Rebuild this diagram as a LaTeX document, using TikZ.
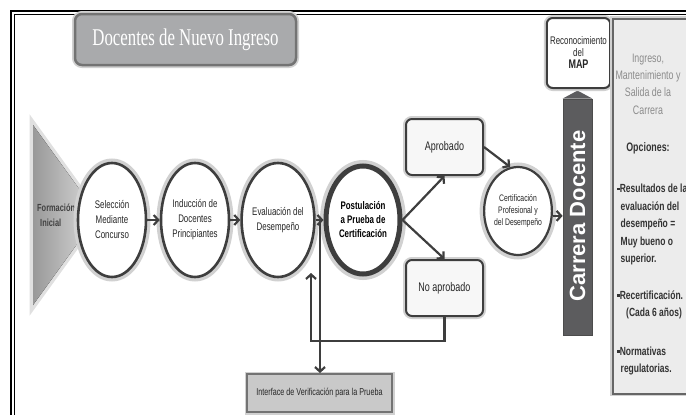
\documentclass[tikz,border=0pt]{standalone}
\usepackage{fontspec}
\setmainfont{Liberation Sans}
\newfontfamily\condfont[FakeStretch=0.72]{Liberation Sans}
\newfontfamily\titlefont[FakeStretch=0.7]{Liberation Serif}
\usepackage{xcolor}
\usetikzlibrary{arrows.meta,positioning,calc,shapes.geometric}
\definecolor{linegray}{HTML}{3E3E3E}
\definecolor{titlegray}{HTML}{A9AAAC}
\definecolor{bargray}{HTML}{5C5C5E}
\definecolor{panelgray}{HTML}{ECECEC}
\definecolor{ifacegray}{HTML}{C9C9C9}
\newcommand{\sqbul}{\raisebox{2.6pt}{\rule{2.6pt}{2.6pt}}}

\begin{document}
\begin{tikzpicture}[x=1pt, y=-1pt,
    arr/.style={draw=linegray, line width=2.2pt, -{Straight Barb[length=4.5pt,width=10pt]}},
    glow/.style={preaction={draw=black!18, line width=#1}},
    stage/.style={ellipse, draw=linegray, line width=2.6pt, fill=white, inner sep=0pt, glow=9pt,
        align=center, text=black!85, font=\condfont\fontsize{11}{15}\selectfont,
        minimum width=68pt, minimum height=114pt},
    box/.style={draw=linegray, line width=2pt, rounded corners=6pt, fill=black!3, glow=6pt,
        align=center, text=black!85, minimum width=77pt, minimum height=56pt,
        font=\condfont\fontsize{12.5}{15}\selectfont}]

\useasboundingbox (0,0) rectangle (686,415);
\clip (0,0) rectangle (686,415);

% Frame
\draw[line width=2.5pt] (11,420) -- (11,11) -- (690,11);
\draw[line width=1pt] (14.5,420) -- (14.5,14.5) -- (690,14.5);

% Title
\node[draw=black!55, line width=2.5pt, rounded corners=7pt, fill=titlegray, glow=6pt,
    minimum width=221pt, minimum height=51pt, text=white,
    font=\titlefont\fontsize{24}{28}\selectfont] (title) at (185.5,39.5) {Docentes de Nuevo Ingreso};

% Formacion inicial
\fill[left color=black!40, right color=black!14, preaction={draw=black!12, line width=7pt}]
    (33,125) -- (98,215) -- (33,305) -- cycle;
\node[anchor=west, align=left, inner sep=0pt, text=black!75,
    font=\condfont\bfseries\fontsize{10.3}{15}\selectfont] (form) at (37,215) {Formación\\\hspace*{3pt}Inicial};

% Stages
\node[stage] (sel) at (112,220) {Selección\\Mediante\\Concurso};
\node[stage] (ind) at (195,220) {Inducción de\\Docentes\\Principiantes};
\node[stage] (eva) at (278,220) {Evaluación del\\Desempeño};
\node[stage, line width=5pt, glow=12pt, minimum width=74pt, minimum height=108pt, text=black,
    font=\condfont\bfseries\fontsize{11}{14}\selectfont] (post) at (363,220) {Postulación\\a Prueba de\\Certificación};

\draw[arr] (sel) -- (ind);
\draw[arr] (ind) -- (eva);
\draw[arr] (eva) -- (post);

% Results
\node[box] (apro) at (444.5,147) {Aprobado};
\node[box] (noap) at (444.5,288) {No aprobado};
\node[stage, minimum width=62pt, minimum height=88pt, line width=2.2pt, glow=7pt,
    font=\condfont\fontsize{9.5}{12}\selectfont] (cert) at (518,211) {Certificación\\Profesional y\\del Desempeño};

\draw[arr] (post.east) -- (apro.south);
\draw[arr] (post.east) -- (noap.north);
\draw[arr] (apro.east) -- (cert.100);

% Verification loop
\node[draw=black!55, line width=2pt, fill=ifacegray, glow=5pt, minimum width=145pt, minimum height=38pt,
    text=black!85, font=\condfont\fontsize{10}{12}\selectfont] (iface) at (319.5,393) {Interface de Verificación para la Prueba};
\coordinate (split) at (320,220);
\coordinate (back) at (311,273);
\draw[arr] (split) -- (split |- iface.north);
\draw[arr] (noap.south) -- ++(0,24) -| (back);

% Carrera docente
\node[fill=bargray, draw=black!70, line width=0.8pt, minimum width=29pt, minimum height=236pt, inner sep=0pt] (bar) at (577.5,217) {};
\fill[bargray] (bar.north west) -- ($(bar.north)+(0,-8)$) -- (bar.north east) -- cycle;
\node[rotate=90, text=white, font=\bfseries\fontsize{22}{22}\selectfont] (bartext) at (577.5,216) {Carrera Docente};
\draw[arr] (cert.-8) -- (cert.-8 -| bar.west);

\node[box, fill=white, minimum width=61pt, minimum height=70pt,
    font=\condfont\fontsize{11}{12}\selectfont] (map) at (578.5,53) {Reconocimiento\\del\\{\bfseries\fontsize{12.5}{12}\selectfont MAP}};

% Options panel
\node[anchor=north west, fill=panelgray, draw=black!60, line width=1.5pt, glow=5pt,
    minimum width=95pt, minimum height=375pt] (panel) at (612,18) {};
\node[align=center, text=black!45, font=\condfont\fontsize{12.3}{17.3}\selectfont] (phead) at (648,84)
    {Ingreso,\\Mantenimiento y\\Salida de la\\Carrera};
\node[text=black!80, font=\condfont\bfseries\fontsize{12.3}{17}\selectfont] (opc) at (648,148) {Opciones:};
\node[anchor=north west, align=left, inner sep=0pt, text=black!80,
    font=\condfont\bfseries\fontsize{11.8}{17.5}\selectfont] (opts) at (617,184)
    {\sqbul Resultados de la\\\hspace*{3.5pt}evaluación del\\\hspace*{3.5pt}desempeño =\\\hspace*{3.5pt}Muy bueno o\\\hspace*{3.5pt}superior.\\[19pt]
     \sqbul Recertificación.\\\hspace*{9pt}(Cada 6 años)\\[21pt]
     \sqbul Normativas\\\hspace*{3.5pt}regulatorias.};
\end{tikzpicture}
\end{document}
